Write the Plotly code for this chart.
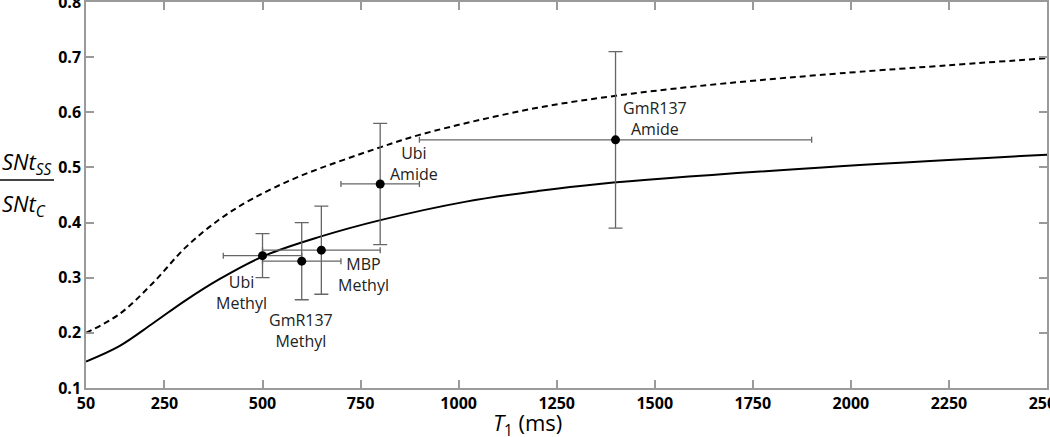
import plotly.graph_objects as go

# ---- data ----
solid_T = [50, 135, 220, 304, 389, 502, 645, 798, 1019, 1200, 1358, 1927, 2500]
solid_v = [0.148, 0.176, 0.217, 0.259, 0.297, 0.339, 0.374, 0.404, 0.438, 0.457, 0.470, 0.500, 0.523]

dashed_T = [50, 135, 220, 304, 389, 474, 595, 798, 900, 1053, 1223, 1401, 1604, 1927, 2500]
dashed_v = [0.200, 0.234, 0.290, 0.355, 0.405, 0.443, 0.484, 0.536, 0.559, 0.586, 0.611, 0.630, 0.647, 0.668, 0.698]

point_names = ["Ubi<br>Methyl", "GmR137<br>Methyl", "MBP<br>Methyl", "Ubi<br>Amide", "GmR137<br>Amide"]
point_T = [500, 600, 650, 800, 1400]
point_v = [0.34, 0.33, 0.35, 0.47, 0.55]
err_T = [100, 100, 150, 100, 500]
err_v = [0.04, 0.07, 0.08, 0.11, 0.16]
label_T = [447, 597, 757, 887, 1501]
label_v = [0.274, 0.205, 0.305, 0.508, 0.588]

x_ticks = [50, 250, 500, 750, 1000, 1250, 1500, 1750, 2000, 2250, 2500]
y_ticks = [0.1, 0.2, 0.3, 0.4, 0.5, 0.6, 0.7, 0.8]

FONT = "Open Sans"

fig = go.Figure()
fig.add_trace(go.Scatter(x=dashed_T, y=dashed_v, mode="lines",
                         line=dict(color="black", width=2, dash="6px,4px", shape="spline", smoothing=1),
                         hoverinfo="skip", showlegend=False))
fig.add_trace(go.Scatter(x=solid_T, y=solid_v, mode="lines",
                         line=dict(color="black", width=2, shape="spline", smoothing=1),
                         hoverinfo="skip", showlegend=False))
fig.add_trace(go.Scatter(x=point_T, y=point_v, mode="markers",
                         marker=dict(color="black", size=9),
                         error_y=dict(type="data", array=err_v, color="#666666", thickness=1.3, width=7),
                         error_x=dict(type="data", array=err_T, color="#666666", thickness=1.3, width=3),
                         showlegend=False))

for name, tx, ty in zip(point_names, label_T, label_v):
    fig.add_annotation(x=tx, y=ty, xref="x", yref="y", text=name, showarrow=False,
                       font=dict(family=FONT, size=16, color="#222222"), align="center")

L, R, T, B = 86, 3, 2, 49
W, H = 1050, 437
pw, ph = W - L - R, H - T - B

def px_x(p):
    return (p - L) / pw

def px_y(p):
    return (H - B - p) / ph

# y-axis fraction label
fig.add_annotation(x=px_x(0), y=px_y(163), xref="paper", yref="paper", xanchor="left", yanchor="middle",
                   text="<i>SNt<sub>SS</sub></i>", showarrow=False,
                   font=dict(family=FONT, size=22, color="black"))
fig.add_annotation(x=px_x(0), y=px_y(205), xref="paper", yref="paper", xanchor="left", yanchor="middle",
                   text="<i>SNt<sub>C</sub></i>", showarrow=False,
                   font=dict(family=FONT, size=22, color="black"))
fig.add_shape(type="line", xref="paper", yref="paper", x0=px_x(0), x1=px_x(54), y0=px_y(180), y1=px_y(180),
              line=dict(color="#444444", width=2))

# x-axis title
fig.add_annotation(x=px_x(527), y=px_y(424), xref="paper", yref="paper", xanchor="center", yanchor="middle",
                   text="<i>T</i><sub>1</sub> (ms)", showarrow=False,
                   font=dict(family=FONT, size=22, color="black"))

axis_common = dict(showgrid=False, zeroline=False, showline=True, linecolor="#9a9a9a", linewidth=1.5,
                   mirror="ticks", ticks="inside", ticklen=8, tickcolor="#9a9a9a", tickwidth=1.5,
                   tickfont=dict(family=FONT, size=16, color="black", weight="bold"), automargin=False,
                   ticklabeloverflow="allow")

fig.update_xaxes(range=[50, 2500], tickvals=x_ticks, ticktext=[str(v) for v in x_ticks], **axis_common)
fig.update_yaxes(range=[0.1, 0.8], tickvals=y_ticks, ticktext=[f"{v:.1f}" for v in y_ticks], **axis_common)

fig.update_layout(width=W, height=H, margin=dict(l=L, r=R, t=T, b=B),
                  plot_bgcolor="white", paper_bgcolor="white")

fig.write_html("out.html", config={"displayModeBar": False},
               post_script="document.body.style.margin='0';document.body.style.overflow='hidden';")
